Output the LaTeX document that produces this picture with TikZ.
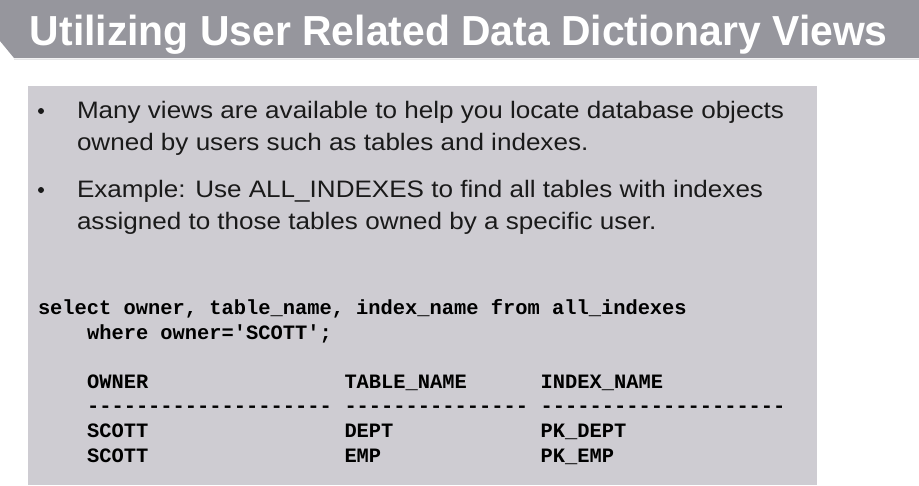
\documentclass[tikz,border=0pt]{standalone}
\usepackage{fontspec}
\setmainfont{Liberation Sans}
\newfontfamily\titlefont{Liberation Sans}[FakeStretch=0.973]
\newfontfamily\bodyfont{Liberation Sans}[FakeStretch=1.095]
\newfontfamily\codefont{Liberation Mono}
\definecolor{titlegrey}{RGB}{150,150,157}
\definecolor{panelgrey}{RGB}{206,204,210}
\definecolor{inkgrey}{RGB}{26,26,26}
\newcommand{\cw}{12.26}

\begin{document}
\begin{tikzpicture}[x=1pt,y=-1pt,
  txt/.style={anchor=base west, inner sep=0pt, outer sep=0pt},
  heading/.style={txt, text=white, font=\titlefont\bfseries\fontsize{42}{42}\selectfont},
  bullettext/.style={txt, text=inkgrey, font=\bodyfont\fontsize{23.8}{32}\selectfont},
  dot/.style={circle, fill=inkgrey, inner sep=0pt, minimum size=6pt},
  codeline/.style={txt, font=\codefont\bfseries\fontsize{20.4}{25}\selectfont}]
\useasboundingbox (0,0) rectangle (919,485);
\fill[titlegrey] (0,0) -- (919,0) -- (919,58) -- (14,58) -- (0,41) -- cycle;
\draw[titlegrey!25, line width=1pt] (14,59.5) -- (919,59.5);
\fill[panelgrey] (28,86) rectangle (817,485);

\node[heading] (title) at (30,45) {Utilizing User Related Data Dictionary Views};

\node[dot] (d1) at (41,111) {};
\node[bullettext] (b1a) at (77,118) {Many views are available to help you locate database objects};
\node[bullettext] (b1b) at (77,150) {owned by users such as tables and indexes.};
\node[dot] (d2) at (41,190) {};
\node[bullettext] (b2a) at (77,197) {Example: Use ALL\_INDEXES to find all tables with indexes};
\node[bullettext] (b2b) at (77,229) {assigned to those tables owned by a specific user.};

\node[codeline] (sel) at (38,314) {select owner, table\_name, index\_name from all\_indexes};
\node[codeline] (whr) at (38+4*\cw,339) {where owner='SCOTT';};

\node[codeline] (h1) at (38+4*\cw,388) {OWNER};
\node[codeline] (h2) at (38+25*\cw,388) {TABLE\_NAME};
\node[codeline] (h3) at (38+41*\cw,388) {INDEX\_NAME};
\node[codeline] (u1) at (38+4*\cw,412) {--------------------};
\node[codeline] (u2) at (38+25*\cw,412) {---------------};
\node[codeline] (u3) at (38+41*\cw,412) {--------------------};
\node[codeline] (r1a) at (38+4*\cw,437) {SCOTT};
\node[codeline] (r1b) at (38+25*\cw,437) {DEPT};
\node[codeline] (r1c) at (38+41*\cw,437) {PK\_DEPT};
\node[codeline] (r2a) at (38+4*\cw,462) {SCOTT};
\node[codeline] (r2b) at (38+25*\cw,462) {EMP};
\node[codeline] (r2c) at (38+41*\cw,462) {PK\_EMP};
\end{tikzpicture}
\end{document}
